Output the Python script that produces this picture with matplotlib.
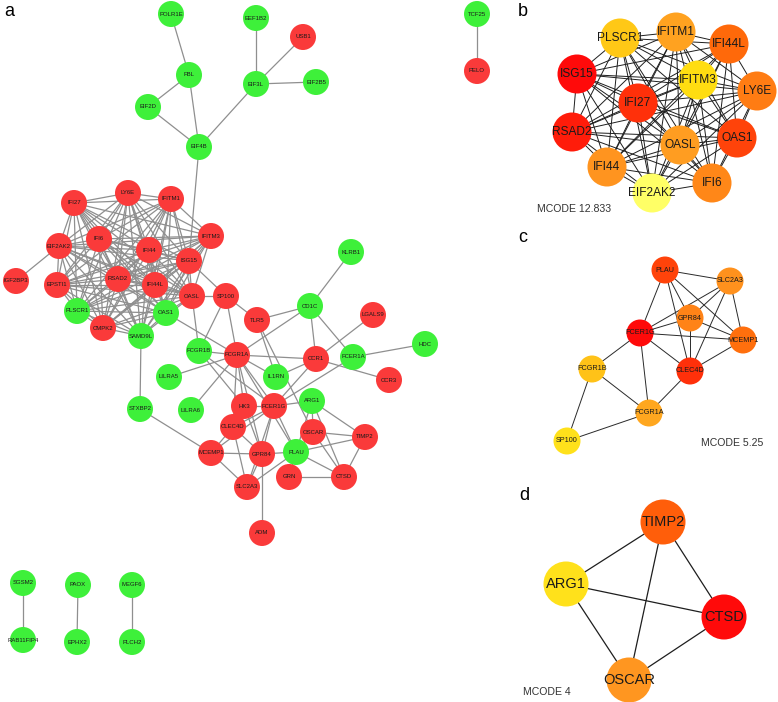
"""
Rede PPI dos DEGs (painel a) e os três módulos MCODE (painéis b, c, d).
Coordenadas dos nós = layout do Cytoscape, em pixels da figura original.
"""

from itertools import combinations

import matplotlib.pyplot as plt
from matplotlib.colors import LinearSegmentedColormap
from matplotlib.patches import Circle

# ---------------- painel a: rede completa ----------------
A_NODES = ["POLR1E", "EEF1B2", "USB1", "FBL", "EIF3L", "EIF2B5", "EIF2D", "EIF4B",
           "TCF25", "PELO", "IFI27", "LY6E", "IFITM1", "IFITM3", "EIF2AK2", "IFI6",
           "IFI44", "ISG15", "IGF2BP3", "EPSTI1", "RSAD2", "IFI44L", "OASL", "SP100",
           "PLSCR1", "OAS1", "CMPK2", "SAMD9L", "TLR5", "KLRB1", "CD1C", "LGALS9",
           "HDC", "FCGR1B", "FCGR1A", "CCR1", "FCER1A", "LILRA5", "IL1RN", "CCR3",
           "ARG1", "HK3", "FCER1G", "STXBP2", "LILRA6", "CLEC4D", "OSCAR", "TIMP2",
           "MCEMP1", "GPR84", "PLAU", "GRN", "CTSD", "SLC2A3", "ADM",
           "SGSM2", "PAOX", "MEGF6", "RAB11FIP4", "EPHX2", "PLCH2"]
A_X = [171, 256, 303, 189, 256, 316, 148, 199,
       477, 477, 74, 128, 171, 211, 59, 99,
       149, 189, 16, 57, 118, 155, 192, 226,
       77, 166, 103, 141, 257, 351, 310, 373,
       425, 199, 237, 316, 353, 169, 276, 389,
       312, 244, 274, 140, 191, 233, 313, 365,
       211, 262, 296, 289, 344, 247, 262,
       23, 78, 132, 23, 77, 132]
A_Y = [14, 18, 37, 75, 84, 82, 107, 147,
       14, 71, 203, 193, 199, 236, 246, 239,
       250, 261, 281, 285, 279, 285, 296, 296,
       311, 313, 328, 336, 320, 252, 306, 315,
       344, 351, 355, 359, 357, 377, 377, 380,
       401, 406, 406, 409, 410, 427, 432, 437,
       453, 454, 452, 477, 477, 487, 533,
       583, 585, 585, 640, 642, 642]
A_REGULATION = ["down", "down", "up", "down", "down", "down", "down", "down",
                "down", "up", "up", "up", "up", "up", "up", "up",
                "up", "up", "up", "up", "up", "up", "up", "up",
                "down", "down", "up", "down", "up", "down", "down", "up",
                "down", "down", "up", "up", "down", "down", "down", "up",
                "down", "up", "up", "down", "down", "up", "up", "up",
                "up", "up", "down", "up", "up", "up", "up",
                "down", "down", "down", "down", "down", "down"]

# módulo do interferon: praticamente todos ligados entre si
A_IFN_CLUSTER = ["IFI27", "LY6E", "IFITM1", "IFITM3", "EIF2AK2", "IFI6", "IFI44",
                 "ISG15", "EPSTI1", "RSAD2", "IFI44L", "OASL", "PLSCR1", "OAS1",
                 "CMPK2", "SAMD9L"]
A_EDGES = [
    ("POLR1E", "FBL"), ("EEF1B2", "EIF3L"), ("FBL", "EIF2D"), ("FBL", "EIF4B"),
    ("EIF2D", "EIF4B"), ("EIF3L", "EIF4B"), ("EIF3L", "USB1"), ("EIF3L", "EIF2B5"),
    ("EIF4B", "ISG15"), ("TCF25", "PELO"),
    ("SGSM2", "RAB11FIP4"), ("PAOX", "EPHX2"), ("MEGF6", "PLCH2"),
    ("IGF2BP3", "EIF2AK2"), ("OASL", "SP100"), ("ISG15", "SP100"),
    ("OAS1", "FCGR1A"), ("SAMD9L", "STXBP2"), ("OASL", "FCGR1B"),
    ("SP100", "FCGR1B"), ("SP100", "FCGR1A"), ("SP100", "TLR5"),
    ("TLR5", "CD1C"), ("TLR5", "IL1RN"), ("TLR5", "OSCAR"),
    ("CD1C", "KLRB1"), ("CD1C", "FCGR1A"), ("CD1C", "CCR1"), ("CD1C", "FCER1A"),
    ("LGALS9", "CCR1"), ("FCER1A", "HDC"), ("FCER1A", "FCER1G"),
    ("CCR1", "CCR3"), ("CCR1", "FCGR1A"), ("CCR1", "IL1RN"), ("CCR1", "FCER1G"),
    ("FCGR1B", "FCGR1A"), ("FCGR1B", "FCER1G"), ("FCGR1B", "HK3"),
    ("FCGR1A", "LILRA5"), ("FCGR1A", "LILRA6"), ("FCGR1A", "IL1RN"),
    ("FCGR1A", "HK3"), ("FCGR1A", "FCER1G"), ("FCGR1A", "CLEC4D"),
    ("FCGR1A", "GPR84"), ("FCGR1A", "PLAU"), ("STXBP2", "MCEMP1"),
    ("MCEMP1", "CLEC4D"), ("MCEMP1", "GPR84"), ("MCEMP1", "SLC2A3"),
    ("MCEMP1", "FCER1G"), ("CLEC4D", "GPR84"), ("CLEC4D", "SLC2A3"),
    ("CLEC4D", "HK3"), ("CLEC4D", "FCER1G"), ("HK3", "FCER1G"), ("HK3", "GPR84"),
    ("FCER1G", "GPR84"), ("FCER1G", "SLC2A3"), ("FCER1G", "PLAU"), ("FCER1G", "ARG1"),
    ("GPR84", "PLAU"), ("GPR84", "SLC2A3"), ("GPR84", "ADM"),
    ("PLAU", "ARG1"), ("PLAU", "OSCAR"), ("PLAU", "TIMP2"), ("PLAU", "CTSD"),
    ("PLAU", "SLC2A3"), ("ARG1", "OSCAR"), ("ARG1", "TIMP2"), ("ARG1", "CTSD"),
    ("OSCAR", "TIMP2"), ("OSCAR", "CTSD"), ("TIMP2", "CTSD"), ("GRN", "CTSD"),
    ("GRN", "PLAU"),
] + list(combinations(A_IFN_CLUSTER, 2))

# ---------------- painel b: MCODE 12.833 (clique) ----------------
B_NODES = ["PLSCR1", "IFITM1", "IFI44L", "ISG15", "IFITM3", "LY6E", "IFI27",
           "RSAD2", "OASL", "OAS1", "IFI44", "IFI6", "EIF2AK2"]
B_X = [620, 676, 729, 577, 698, 757, 638, 572, 680, 737, 607, 712, 652]
B_Y = [38, 32, 44, 74, 80, 91, 103, 132, 145, 138, 167, 183, 193]
B_SCORE = [0.33, 0.47, 0.75, 1.0, 0.25, 0.66, 0.9, 0.95, 0.49, 0.85, 0.53, 0.6, 0.0]
B_EDGES = list(combinations(B_NODES, 2))

# ---------------- painel c: MCODE 5.25 ----------------
C_NODES = ["PLAU", "SLC2A3", "GPR84", "FCER1G", "MCEMP1", "FCGR1B", "CLEC4D",
           "FCGR1A", "SP100"]
C_X = [665, 730, 690, 640, 743, 592, 690, 649, 567]
C_Y = [270, 281, 318, 333, 340, 369, 371, 413, 441]
C_SCORE = [0.85, 0.55, 0.62, 1.0, 0.72, 0.35, 0.9, 0.45, 0.22]
C_EDGES = [
    ("PLAU", "SLC2A3"), ("PLAU", "FCER1G"), ("PLAU", "GPR84"), ("PLAU", "CLEC4D"),
    ("PLAU", "MCEMP1"), ("SLC2A3", "FCER1G"), ("SLC2A3", "GPR84"),
    ("SLC2A3", "CLEC4D"), ("SLC2A3", "MCEMP1"), ("GPR84", "FCER1G"),
    ("GPR84", "MCEMP1"), ("GPR84", "CLEC4D"), ("FCER1G", "MCEMP1"),
    ("FCER1G", "CLEC4D"), ("FCER1G", "FCGR1B"), ("FCER1G", "FCGR1A"),
    ("CLEC4D", "MCEMP1"), ("CLEC4D", "FCGR1A"), ("FCGR1B", "FCGR1A"),
    ("FCGR1B", "SP100"), ("SP100", "FCGR1A"),
]

# ---------------- painel d: MCODE 4 ----------------
D_NODES = ["TIMP2", "ARG1", "CTSD", "OSCAR"]
D_X = [663, 566, 724, 629]
D_Y = [522, 584, 617, 680]
D_SCORE = [0.78, 0.22, 1.0, 0.52]
D_EDGES = [("TIMP2", "ARG1"), ("TIMP2", "CTSD"), ("TIMP2", "OSCAR"),
           ("ARG1", "CTSD"), ("ARG1", "OSCAR"), ("CTSD", "OSCAR")]

REG_COLORS = {"up": "#fa3a3a", "down": "#3ef03a"}
MCODE_CMAP = LinearSegmentedColormap.from_list(
    "mcode", ["#ffff66", "#ffdd11", "#ff9a22", "#ff6a0a", "#ff0a0a"])
FONT = ["Liberation Sans", "DejaVu Sans"]


def draw_network(ax, names, xs, ys, colors, edges, radius, fontsize,
                 edge_color, edge_width):
    """Arestas embaixo, círculos por cima, rótulo centralizado no nó."""
    pos = {n: (x, y) for n, x, y in zip(names, xs, ys)}
    for a, b in edges:
        ax.plot([pos[a][0], pos[b][0]], [pos[a][1], pos[b][1]],
                color=edge_color, linewidth=edge_width, zorder=1)
    for n, c in zip(names, colors):
        ax.add_patch(Circle(pos[n], radius, facecolor=c, edgecolor="none", zorder=2))
        ax.text(pos[n][0], pos[n][1], n, ha="center", va="center",
                fontsize=fontsize, family=FONT, color="#1a1a1a", zorder=3)


def main():
    fig = plt.figure(figsize=(7.78, 7.02), dpi=100)
    ax = fig.add_axes([0, 0, 1, 1])
    ax.set_xlim(0, 778)
    ax.set_ylim(702, 0)
    ax.axis("off")

    draw_network(ax, A_NODES, A_X, A_Y, [REG_COLORS[r] for r in A_REGULATION],
                 A_EDGES, 13, 4.3, "#8f8f8f", 0.9)
    draw_network(ax, B_NODES, B_X, B_Y, MCODE_CMAP(B_SCORE), B_EDGES,
                 19.5, 8.6, "#1e1e1e", 0.7)
    draw_network(ax, C_NODES, C_X, C_Y, MCODE_CMAP(C_SCORE), C_EDGES,
                 13.5, 5.2, "#2a2a2a", 0.7)
    draw_network(ax, D_NODES, D_X, D_Y, MCODE_CMAP(D_SCORE), D_EDGES,
                 22.5, 10.5, "#1e1e1e", 0.9)

    for letter, x, y in [("a", 9, 11), ("b", 523, 11), ("c", 523, 238), ("d", 524, 495)]:
        ax.text(x, y, letter, ha="center", va="center", fontsize=13, family=FONT)

    ax.text(537, 209, "MCODE 12.833", ha="left", va="center", fontsize=7.6,
            family=FONT, color="#333333")
    ax.text(701, 443, "MCODE 5.25", ha="left", va="center", fontsize=7.6,
            family=FONT, color="#333333")
    ax.text(523, 692, "MCODE 4", ha="left", va="center", fontsize=7.6,
            family=FONT, color="#333333")

    fig.savefig("out.png", dpi=100)
    plt.close(fig)


if __name__ == "__main__":
    main()
